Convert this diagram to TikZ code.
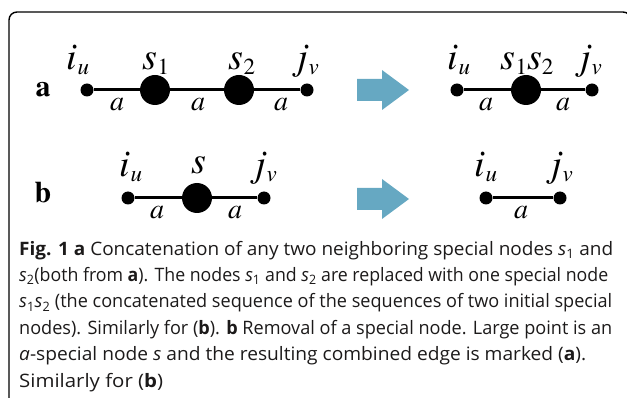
\documentclass[tikz,border=0pt]{standalone}
\usepackage{fontspec}
\setmainfont{TeX Gyre Termes}
\newfontfamily\capfont{Open Sans}
\definecolor{arrowblue}{HTML}{66A8C2}
\definecolor{captext}{HTML}{1C1A1A}
% vertex label with a lowered index
\newcommand\vlab[2]{\textit{#1}\raisebox{-5pt}{\fontsize{23}{23}\selectfont #2}}
\newcommand\capsub[2]{\textit{#1}\textsubscript{#2}}
% one caption line, set to a given width
\newcommand\capline[2]{\resizebox{#1}{\height}{#2}}

\begin{document}
\begin{tikzpicture}[x=1pt,y=-1pt,
  bigdot/.style={circle,fill=black,inner sep=0pt,minimum size=30pt},
  smalldot/.style={circle,fill=black,inner sep=0pt,minimum size=13pt},
  edgeline/.style={line width=3pt},
  toplab/.style={anchor=base,inner sep=0pt,font=\fontsize{38}{38}\selectfont},
  elab/.style={anchor=base,inner sep=0pt,font=\itshape\fontsize{28}{28}\selectfont},
  panel/.style={anchor=base,inner sep=0pt,font=\bfseries\fontsize{30}{30}\selectfont},
  bigarrow/.style={fill=arrowblue,draw=none},
  captxt/.style={anchor=base west,inner sep=0pt,text=captext,
                 font=\capfont\fontsize{18.5}{22}\selectfont},
]
\clip (0,0) rectangle (627,398);

% frame
\draw[line width=1.4pt,rounded corners=8pt] (9,440) -- (9,12) -- (631,12) -- (631,440);

% ---- panel a, before ----
\node[panel] (pa) at (43,97) {a};
\node[smalldot] (a1) at (87,90) {};
\node[bigdot]   (a2) at (155,90) {};
\node[bigdot]   (a3) at (239,90) {};
\node[smalldot] (a4) at (307,90) {};
\draw[edgeline] (a1) -- (a2);
\draw[edgeline] (a2) -- (a3);
\draw[edgeline] (a3) -- (a4);
\node[toplab] (la1) at (78,70) {\vlab{i}{\textit{u}}};
\node[toplab] (la2) at (156,70) {\vlab{s}{1}};
\node[toplab] (la3) at (242,70) {\vlab{s}{2}};
\node[toplab] (la4) at (308,70) {\vlab{j}{\textit{v}}};
\node[elab] (ea1) at (117,111) {a};
\node[elab] (ea2) at (198,111) {a};
\node[elab] (ea3) at (281,111) {a};

% ---- panel a, after ----
\fill[bigarrow] (357,79) -- (382,79) -- (382,70) -- (409,90) -- (382,110) -- (382,101) -- (357,101) -- cycle;
\node[smalldot] (b1) at (457,90) {};
\node[bigdot]   (b2) at (526,90) {};
\node[smalldot] (b3) at (592,90) {};
\draw[edgeline] (b1) -- (b2);
\draw[edgeline] (b2) -- (b3);
\node[toplab] (lb1) at (459,70) {\vlab{i}{\textit{u}}};
\node[toplab] (lb2) at (527,70) {\vlab{s}{1}\vlab{s}{2}};
\node[toplab] (lb3) at (591,70) {\vlab{j}{\textit{v}}};
\node[elab] (eb1) at (486,111) {a};
\node[elab] (eb2) at (563,111) {a};

% ---- panel b, before ----
\node[panel] (pb) at (43,203) {b};
\node[smalldot] (c1) at (128,198) {};
\node[bigdot]   (c2) at (197,198) {};
\node[smalldot] (c3) at (264,198) {};
\draw[edgeline] (c1) -- (c2);
\draw[edgeline] (c2) -- (c3);
\node[toplab] (lc1) at (131,177) {\vlab{i}{\textit{u}}};
\node[toplab] (lc2) at (199,174) {\textit{s}};
\node[toplab] (lc3) at (266,177) {\vlab{j}{\textit{v}}};
\node[elab] (ec1) at (157,219) {a};
\node[elab] (ec2) at (235,219) {a};

% ---- panel b, after ----
\fill[bigarrow] (357,188) -- (382,188) -- (382,179) -- (409,199) -- (382,219) -- (382,210) -- (357,210) -- cycle;
\node[smalldot] (d1) at (486,198) {};
\node[smalldot] (d2) at (560,198) {};
\draw[edgeline] (d1) -- (d2);
\node[toplab] (ld1) at (486,177) {\vlab{i}{\textit{u}}};
\node[toplab] (ld2) at (562,177) {\vlab{j}{\textit{v}}};
\node[elab] (ed1) at (521,219) {a};

% ---- caption ----
\node[captxt] (cap1) at (19,255) {\capline{594pt}{\textbf{Fig. 1} \textbf{a} Concatenation of any two neighboring special nodes \capsub{s}{1} and}};
\node[captxt] (cap2) at (19,281.4) {\capline{589pt}{\capsub{s}{2}(both from \textbf{a}). The nodes \capsub{s}{1} and \capsub{s}{2} are replaced with one special node}};
\node[captxt] (cap3) at (19,307.8) {\capline{593pt}{\capsub{s}{1}\capsub{s}{2} (the concatenated sequence of the sequences of two initial special}};
\node[captxt] (cap4) at (19,334.2) {\capline{593pt}{nodes). Similarly for (\textbf{b}). \textbf{b} Removal of a special node. Large point is an}};
\node[captxt] (cap5) at (19,360.6) {\capline{567pt}{\textit{a}-special node \textit{s} and the resulting combined edge is marked (\textbf{a}).}};
\node[captxt] (cap6) at (19,387) {\capline{144pt}{Similarly for (\textbf{b})}};
\end{tikzpicture}
\end{document}
